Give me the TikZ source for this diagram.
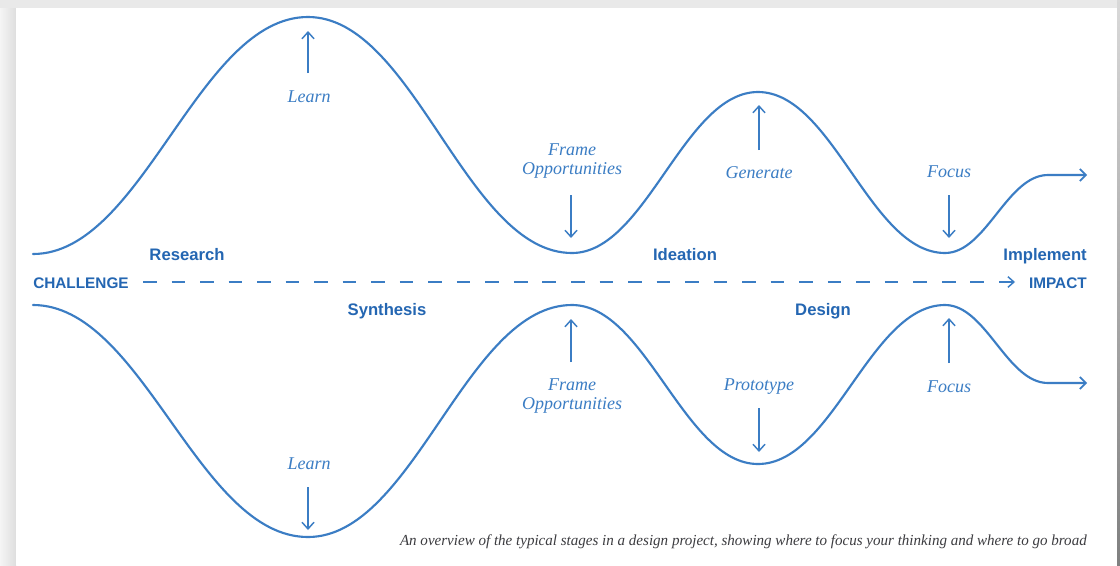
\documentclass[tikz,border=0pt]{standalone}
\usepackage{fontspec}
\setmainfont{Liberation Serif}
\setsansfont{Liberation Sans}
\usetikzlibrary{arrows.meta}

\definecolor{wavecol}{RGB}{59,125,196}
\definecolor{stagecol}{RGB}{36,102,178}
\definecolor{notecol}{RGB}{60,60,64}
\definecolor{edgecol}{RGB}{233,233,233}

\tikzset{
  wavepath/.style={draw=wavecol, line width=1.6pt, line cap=round,
    -{Straight Barb[length=4.5pt,width=9pt,line width=1.3pt]}},
  hint/.style={draw=wavecol, line width=1.1pt,
    -{Straight Barb[length=5pt,width=9pt,line width=1.1pt]}},
  axis/.style={draw=wavecol, line width=1.1pt, dash pattern=on 10.2pt off 11.2pt,
    -{Straight Barb[length=4.5pt,width=8pt,line width=1.1pt]}},
  stagelbl/.style={font=\sffamily\bfseries\fontsize{12.5}{15}\selectfont,
    text=stagecol, inner sep=0pt, anchor=base},
  endlbl/.style={font=\sffamily\bfseries\fontsize{11.5}{14}\selectfont,
    text=stagecol, inner sep=0pt},
  phase/.style={font=\itshape\fontsize{13.5}{16}\selectfont,
    text=wavecol, inner sep=0pt, anchor=base},
}

\begin{document}
\begin{tikzpicture}[x=0.75pt,y=-0.75pt]
  \useasboundingbox (0,0) rectangle (1120,565);

  % page frame
  \fill[edgecol] (0,0) rectangle (1120,565);
  \shade[left color=black!4, right color=black!13] (0,8) rectangle (16,565);
  \fill[white] (16,8) rectangle (1117,565);
  \shade[top color=black!15, bottom color=black!50] (1117,0) rectangle (1120,565);

  % upper wave: divergent and convergent phases
  \coordinate (t0) at (33,254);
  \coordinate (t1) at (308,17);
  \coordinate (t2) at (572,253);
  \coordinate (t3) at (758,92);
  \coordinate (t4) at (945,253);
  \coordinate (t5) at (1048,175);
  \coordinate (t6) at (1087,175);
  \draw[wavepath] (t0) .. controls +(110,0) and +(-110,0) .. (t1)
                       .. controls +(106,0) and +(-106,0) .. (t2)
                       .. controls +(74,0) and +(-74,0) .. (t3)
                       .. controls +(75,0) and +(-75,0) .. (t4)
                       .. controls +(41,0) and +(-41,0) .. (t5) -- (t6);

  % lower wave, mirrored
  \coordinate (b0) at (33,305);
  \coordinate (b1) at (308,537);
  \coordinate (b2) at (572,305);
  \coordinate (b3) at (758,464);
  \coordinate (b4) at (945,305);
  \coordinate (b5) at (1048,383);
  \coordinate (b6) at (1087,383);
  \draw[wavepath] (b0) .. controls +(110,0) and +(-110,0) .. (b1)
                       .. controls +(106,0) and +(-106,0) .. (b2)
                       .. controls +(74,0) and +(-74,0) .. (b3)
                       .. controls +(75,0) and +(-75,0) .. (b4)
                       .. controls +(41,0) and +(-41,0) .. (b5) -- (b6);

  % central axis from challenge to impact
  \node[endlbl, anchor=base west] (challenge) at (33,288) {CHALLENGE};
  \node[endlbl, anchor=base east] (impact) at (1087,288) {IMPACT};
  \coordinate (ax0) at (143,282);
  \coordinate (ax1) at (1015,282);
  \draw[axis] (ax0) -- (ax1);

  % stage names
  \node[stagelbl] (research)  at (187,260) {Research};
  \node[stagelbl] (ideation)  at (685,260) {Ideation};
  \node[stagelbl, anchor=base east] (implement) at (1087,260) {Implement};
  \node[stagelbl] (synthesis) at (387,315) {Synthesis};
  \node[stagelbl] (design)    at (823,315) {Design};

  % upper hints
  \node[phase] (learnU) at (309,102) {Learn};
  \draw[hint] (308,73) -- (308,31);

  \node[phase] (frameU1) at (572,155) {Frame};
  \node[phase] (frameU2) at (572,174) {Opportunities};
  \draw[hint] (571,195) -- (571,238);

  \node[phase] (generate) at (759,178) {Generate};
  \draw[hint] (759,150) -- (759,105);

  \node[phase] (focusU) at (949,177) {Focus};
  \draw[hint] (949,195) -- (949,238);

  % lower hints
  \node[phase] (frameL1) at (572,390) {Frame};
  \node[phase] (frameL2) at (572,409) {Opportunities};
  \draw[hint] (571,362) -- (571,319);

  \node[phase] (prototype) at (759,390) {Prototype};
  \draw[hint] (759,408) -- (759,452);

  \node[phase] (focusL) at (949,392) {Focus};
  \draw[hint] (949,363) -- (949,318);

  \node[phase] (learnL) at (309,469) {Learn};
  \draw[hint] (308,487) -- (308,530);

  % caption
  \node[inner sep=0pt, anchor=base east, text=notecol] (caption) at (1087,545)
    {\resizebox{515pt}{\height}{\itshape\fontsize{11.5}{14}\selectfont An overview of the typical stages in a design project, showing where to focus your thinking and where to go broad}};
\end{tikzpicture}
\end{document}
